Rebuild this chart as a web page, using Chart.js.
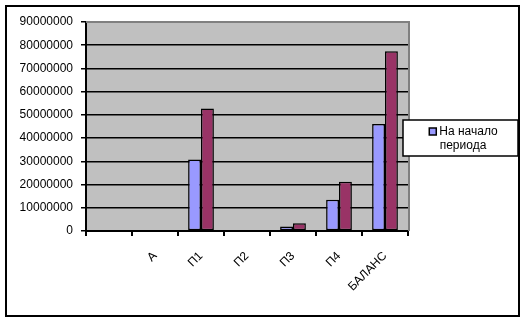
<!DOCTYPE html>
<html>
<head>
<meta charset="utf-8">
<script src="https://cdn.jsdelivr.net/npm/chart.js@4/dist/chart.umd.min.js"></script>
<style>
  html, body { margin: 0; padding: 0; background: #fff; }
  #wrap { width: 525px; height: 320px; }
</style>
</head>
<body>
<div id="wrap"><canvas id="chart" width="525" height="320"></canvas></div>
<script>
const categories = ['', 'А', 'П1', 'П2', 'П3', 'П4', 'БАЛАНС'];
const startValues = [0, 0, 30800000, 0, 1900000, 13500000, 46100000];
const endValues = [0, 0, 52800000, 0, 3300000, 21200000, 77400000];
const seriesNames = ['На начало периода', 'На конец периода'];
const yTicks = [0, 10000000, 20000000, 30000000, 40000000, 50000000, 60000000, 70000000, 80000000, 90000000];

const font = { family: 'Arial, "Liberation Sans", sans-serif', size: 12 };

// white page, outer frame and grey plot background
const frame = {
    id: 'frame',
    beforeDraw(chart) {
        const ctx = chart.ctx;
        const a = chart.chartArea;
        ctx.save();
        ctx.fillStyle = '#fff';
        ctx.fillRect(0, 0, chart.width, chart.height);
        ctx.strokeStyle = '#000';
        ctx.lineWidth = 2;
        ctx.strokeRect(6, 6, 513, 310);
        ctx.fillStyle = '#c0c0c0';
        ctx.fillRect(a.left, a.top, a.right - a.left, a.bottom - a.top);
        ctx.restore();
    },
    afterDatasetsDraw(chart) {
        const ctx = chart.ctx;
        const a = chart.chartArea;
        ctx.save();
        ctx.strokeStyle = '#808080';
        ctx.lineWidth = 2;
        ctx.beginPath();
        ctx.moveTo(a.left, a.top);
        ctx.lineTo(a.right + 1, a.top);
        ctx.lineTo(a.right + 1, a.bottom);
        ctx.stroke();
        ctx.restore();
    }
};

// legend box drawn at the right, only the first series fits
const boxLegend = {
    id: 'boxLegend',
    afterDraw(chart) {
        const ctx = chart.ctx;
        const ds = chart.data.datasets[0];
        const words = ds.label.split(' ');
        const line1 = words.slice(0, 2).join(' ');
        const line2 = words.slice(2).join(' ');
        ctx.save();
        ctx.fillStyle = '#fff';
        ctx.fillRect(403, 120, 115, 36);
        ctx.strokeStyle = '#000';
        ctx.lineWidth = 1.5;
        ctx.strokeRect(403, 120, 115, 36);
        ctx.font = font.size + 'px ' + font.family;
        ctx.textBaseline = 'middle';
        const w1 = ctx.measureText(line1).width;
        const cx = 463;
        const x1 = cx - (w1 + 11) / 2 + 11;
        ctx.fillStyle = ds.backgroundColor;
        ctx.fillRect(x1 - 10, 128, 7, 7);
        ctx.lineWidth = 1.5;
        ctx.strokeRect(x1 - 10, 128, 7, 7);
        ctx.fillStyle = '#000';
        ctx.textAlign = 'left';
        ctx.fillText(line1, x1, 132);
        ctx.textAlign = 'center';
        ctx.fillText(line2, cx, 146);
        ctx.restore();
    }
};

new Chart(document.getElementById('chart'), {
    type: 'bar',
    data: {
        labels: categories,
        datasets: [{
            label: seriesNames[0],
            data: startValues,
            backgroundColor: '#9999ff',
            borderColor: '#000',
            borderWidth: 1.5,
            borderSkipped: false,
            barPercentage: 1,
            categoryPercentage: 0.56
        }, {
            label: seriesNames[1],
            data: endValues,
            backgroundColor: '#993366',
            borderColor: '#000',
            borderWidth: 1.5,
            borderSkipped: false,
            barPercentage: 1,
            categoryPercentage: 0.56
        }]
    },
    options: {
        responsive: false,
        animation: false,
        layout: { padding: { top: 22, right: 117, left: 0, bottom: 0 } },
        plugins: {
            legend: { display: false },
            tooltip: { enabled: false }
        },
        scales: {
            x: {
                afterFit(scale) { scale.height = 89; },
                border: { display: true, color: '#000', width: 2 },
                grid: { drawOnChartArea: false, offset: true, color: '#000', tickLength: 5, lineWidth: 2 },
                ticks: { color: '#000', font: font, minRotation: 45, maxRotation: 45, padding: 13 }
            },
            y: {
                min: 0,
                max: 90000000,
                afterFit(scale) { scale.width = 86; },
                afterBuildTicks(scale) { scale.ticks = yTicks.map(v => ({ value: v })); },
                border: { display: true, color: '#000', width: 2 },
                grid: {
                    color: c => c.index === yTicks.length - 1 ? '#808080' : '#000',
                    tickColor: '#000',
                    lineWidth: 1.5,
                    tickLength: 5
                },
                ticks: { color: '#000', font: font, padding: 8, callback: v => String(v) }
            }
        }
    },
    plugins: [frame, boxLegend]
});
</script>
</body>
</html>
